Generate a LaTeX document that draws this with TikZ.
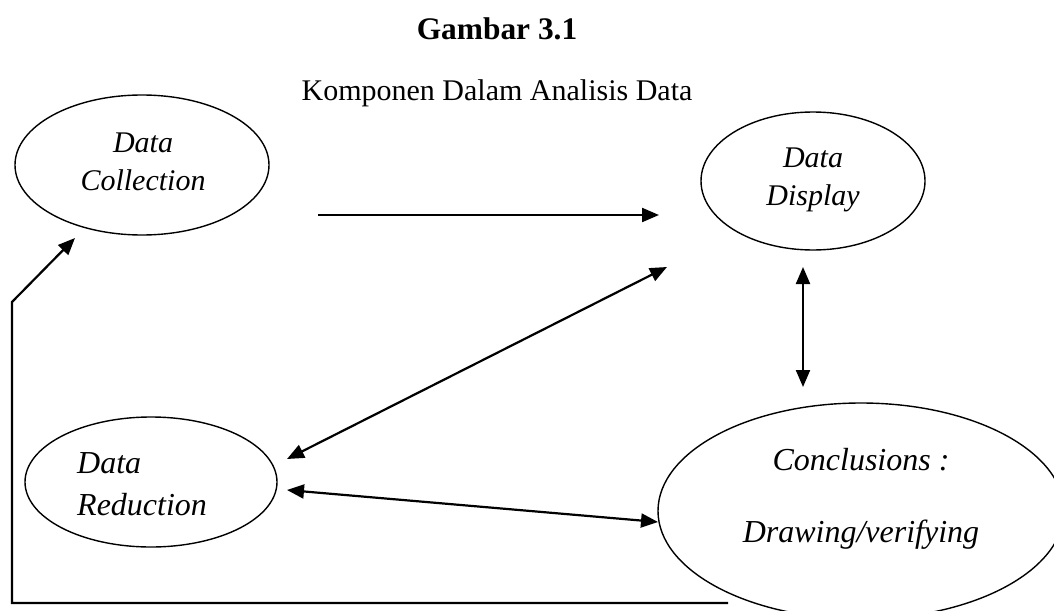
\documentclass[tikz,border=0pt]{standalone}
\usepackage{fontspec}
\setmainfont{Liberation Serif}
\usetikzlibrary{arrows.meta,shapes.geometric}
\begin{document}
\begin{tikzpicture}[x=1pt,y=-1pt,
  bub/.style={draw,ellipse,line width=1.4pt,inner sep=0pt},
  lbl/.style={font=\fontsize{30}{36}\selectfont\itshape,anchor=base,inner sep=0pt},
  biglbl/.style={lbl,font=\fontsize{32}{38}\selectfont\itshape},
  conn/.style={line width=2.2pt,-{Triangle[length=17pt,width=14pt]}},
  conntwo/.style={line width=2.2pt,{Triangle[length=17pt,width=14pt]}-{Triangle[length=17pt,width=14pt]}}]
\useasboundingbox (0,0) rectangle (1054,610);
\clip (0,0) rectangle (1054,610);
\fill[white] (0,0) rectangle (1054,610);

% titles
\node[font=\fontsize{31.4}{36}\selectfont\bfseries,anchor=base,inner sep=0pt] (title) at (497,40) {Gambar 3.1};
\node[font=\fontsize{30}{36}\selectfont,anchor=base,inner sep=0pt] (subtitle) at (497,100) {Komponen Dalam Analisis Data};

% ellipses
\node[bub,minimum width=254pt,minimum height=140pt] (collection) at (142,165) {};
\node[bub,minimum width=224pt,minimum height=138pt] (display) at (813,181) {};
\node[bub,minimum width=252pt,minimum height=130pt] (reduction) at (151,482) {};
\node[bub,minimum width=406pt,minimum height=216pt] (conclusion) at (861,511) {};

% labels
\node[lbl] (tcol1) at (143,152) {Data};
\node[lbl] (tcol2) at (143,190) {Collection};
\node[lbl] (tdis1) at (813,167) {Data};
\node[lbl] (tdis2) at (813,205) {Display};
\node[biglbl,anchor=base west] (tred1) at (77,473) {Data};
\node[biglbl,anchor=base west] (tred2) at (77,515) {Reduction};
\node[biglbl] (tcon1) at (861,470) {Conclusions :};
\node[biglbl] (tcon2) at (861,542) {Drawing/verifying};

% connector end points
\coordinate (a1s) at (318,215);
\coordinate (a1e) at (659,215);
\coordinate (a2s) at (287,459);
\coordinate (a2e) at (667,267);
\coordinate (a3s) at (803,267);
\coordinate (a3e) at (803,387);
\coordinate (a4s) at (287,490);
\coordinate (a4e) at (658,522);
\coordinate (fbs) at (728,603);
\coordinate (fbc1) at (12,603);
\coordinate (fbc2) at (12,302);
\coordinate (fbe) at (75,238);

\draw[conn] (a1s) -- (a1e);
\draw[conntwo] (a2s) -- (a2e);
\draw[conntwo] (a3s) -- (a3e);
\draw[conntwo] (a4s) -- (a4e);
\draw[conn,line join=miter] (fbs) -- (fbc1) -- (fbc2) -- (fbe);
\end{tikzpicture}
\end{document}
